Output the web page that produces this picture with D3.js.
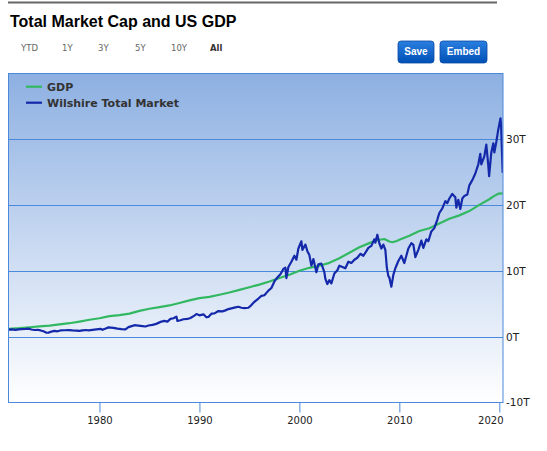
<!DOCTYPE html>
<html><head><meta charset="utf-8">
<script src="https://cdn.jsdelivr.net/npm/d3@7"></script>
<style>body{margin:0;background:#fff}svg{display:block}</style>
</head><body>
<script>
const title = "Total Market Cap and US GDP";
const rangeButtons = ["YTD","1Y","3Y","5Y","10Y","All"];
const actionButtons = ["Save","Embed"];
const seriesNames = ["GDP","Wilshire Total Market"];
const xTicks = [1980,1990,2000,2010,2020];
const yTicks = [-10,0,10,20,30];

const gdpYears = [1970.9,1972.0,1973.0,1974.0,1975.0,1976.0,1977.0,1978.0,1979.0,1980.0,1981.0,1982.0,1983.0,1984.0,1985.0,1986.0,1987.0,1988.0,1989.0,1990.0,1991.0,1992.0,1993.0,1994.0,1995.0,1996.0,1997.0,1998.0,1999.0,2000.0,2001.0,2002.0,2003.0,2004.0,2005.0,2006.0,2007.0,2007.75,2008.5,2009.0,2009.3,2009.75,2010.0,2011.0,2012.0,2013.0,2014.0,2015.0,2016.0,2017.0,2018.0,2019.0,2019.5,2019.9,2020.34];
const gdpValues = [1.20,1.30,1.44,1.56,1.68,1.86,2.05,2.30,2.58,2.80,3.12,3.27,3.50,3.92,4.25,4.50,4.75,5.12,5.52,5.87,6.05,6.38,6.72,7.12,7.52,7.92,8.40,8.92,9.41,10.03,10.47,10.78,11.22,11.92,12.76,13.60,14.22,14.66,14.85,14.47,14.36,14.55,14.72,15.35,16.07,16.48,17.20,17.92,18.44,19.09,20.04,20.89,21.40,21.73,21.78];

const wilshireYears = [1970.9,1971.3,1971.6,1971.9,1972.2,1972.6,1972.9,1973.2,1973.5,1973.8,1974.1,1974.4,1974.7,1974.9,1975.2,1975.5,1975.8,1976.1,1976.5,1976.9,1977.3,1977.7,1978.0,1978.3,1978.7,1978.9,1979.3,1979.7,1980.1,1980.3,1980.7,1980.9,1981.4,1981.8,1982.2,1982.6,1982.9,1983.3,1983.5,1983.9,1984.3,1984.6,1984.9,1985.3,1985.6,1985.9,1986.2,1986.5,1986.8,1987.1,1987.4,1987.7,1987.8,1988.1,1988.4,1988.8,1989.1,1989.5,1989.7,1990.0,1990.4,1990.7,1990.9,1991.2,1991.5,1991.9,1992.3,1992.6,1992.9,1993.3,1993.6,1993.9,1994.2,1994.5,1994.9,1995.2,1995.5,1995.9,1996.2,1996.5,1996.9,1997.2,1997.5,1997.8,1998.1,1998.4,1998.6,1998.7,1998.9,1999.2,1999.5,1999.7,1999.9,2000.2,2000.3,2000.6,2000.8,2001.0,2001.2,2001.4,2001.7,2001.9,2002.2,2002.5,2002.6,2002.8,2003.0,2003.2,2003.5,2003.8,2004.0,2004.3,2004.6,2004.9,2005.2,2005.5,2005.8,2006.1,2006.4,2006.7,2006.9,2007.2,2007.5,2007.6,2007.8,2008.0,2008.2,2008.4,2008.6,2008.75,2008.9,2009.0,2009.2,2009.4,2009.6,2009.9,2010.2,2010.5,2010.7,2010.9,2011.2,2011.4,2011.6,2011.9,2012.2,2012.4,2012.7,2012.9,2013.2,2013.5,2013.8,2014.0,2014.3,2014.6,2014.8,2015.0,2015.3,2015.6,2015.7,2015.9,2016.1,2016.3,2016.5,2016.8,2017.0,2017.3,2017.6,2017.9,2018.1,2018.2,2018.5,2018.7,2018.9,2018.98,2019.2,2019.4,2019.5,2019.7,2019.9,2020.12,2020.18,2020.34];
const wilshireValues = [1.07,1.12,1.05,1.10,1.15,1.18,1.22,1.10,1.02,1.05,0.95,0.82,0.60,0.62,0.78,0.88,0.82,0.95,0.98,1.00,0.95,0.92,0.88,0.96,1.02,0.95,1.05,1.12,1.20,1.05,1.30,1.42,1.35,1.22,1.15,1.12,1.45,1.65,1.75,1.68,1.60,1.55,1.70,1.80,1.90,2.10,2.30,2.40,2.30,2.70,2.80,3.05,2.40,2.50,2.65,2.70,2.85,3.20,3.45,3.25,3.40,2.95,3.00,3.50,3.55,3.90,3.85,4.00,4.20,4.35,4.45,4.55,4.40,4.35,4.40,4.80,5.30,5.80,6.20,6.30,7.00,7.40,8.40,9.00,9.50,10.30,10.50,8.90,10.60,11.40,12.30,11.70,13.40,14.50,13.20,14.00,13.00,12.40,10.80,11.80,9.80,11.00,11.10,9.80,8.80,8.00,8.60,8.10,9.60,10.10,10.80,10.60,10.40,11.40,11.20,11.70,12.00,12.60,12.30,13.00,13.50,13.80,14.80,14.30,15.50,14.20,13.40,14.00,13.20,10.50,9.20,9.00,7.60,9.40,10.40,11.50,12.30,11.20,12.30,13.40,14.20,14.00,12.10,13.20,14.60,13.50,14.80,14.50,16.00,16.50,17.80,18.80,19.50,20.60,20.30,21.00,21.70,21.20,19.60,20.80,19.40,21.00,21.40,21.60,23.00,23.80,24.80,26.20,27.80,26.20,27.40,29.20,26.00,24.40,28.00,29.40,28.00,29.60,31.50,33.20,32.00,24.90];

const W = 547, H = 451;
const svg = d3.select("body").append("svg").attr("width", W).attr("height", H);
const defs = svg.append("defs");

const bg = defs.append("linearGradient").attr("id","bg").attr("x1",0).attr("y1",0).attr("x2",0).attr("y2",1);
bg.append("stop").attr("offset","0%").attr("stop-color","#8db0e2");
bg.append("stop").attr("offset","100%").attr("stop-color","#ffffff");
const btn = defs.append("linearGradient").attr("id","btn").attr("x1",0).attr("y1",0).attr("x2",0).attr("y2",1);
btn.append("stop").attr("offset","0%").attr("stop-color","#2a7fdf");
btn.append("stop").attr("offset","100%").attr("stop-color","#0050b6");

const plot = {l: 8.5, r: 503, t: 73.5, b: 402.5};
defs.append("clipPath").attr("id","clip").append("rect")
  .attr("x", plot.l).attr("y", plot.t).attr("width", plot.r - plot.l).attr("height", plot.b - plot.t);

// header
svg.append("line").attr("x1",8).attr("x2",497).attr("y1",2.5).attr("y2",2.5)
  .attr("stroke","#666").attr("stroke-width",2);
svg.append("text").attr("x",10).attr("y",26.5).text(title)
  .attr("font-family","Liberation Sans, Arial, sans-serif").attr("font-weight","bold")
  .attr("font-size",16).attr("fill","#000");

const rbX = [21, 62, 98, 135, 171, 210];
svg.selectAll("text.rb").data(rangeButtons).join("text").attr("class","rb")
  .attr("x",(d,i)=>rbX[i]).attr("y",51).text(d=>d)
  .attr("font-family","DejaVu Sans, sans-serif").attr("font-size",8.5)
  .attr("font-weight",d=>d==="All"?"bold":"normal")
  .attr("fill",d=>d==="All"?"#333":"#666");

const abX = [398, 440], abW = [36, 47];
const ab = svg.selectAll("g.ab").data(actionButtons).join("g").attr("class","ab");
ab.append("rect").attr("x",(d,i)=>abX[i]).attr("y",41).attr("width",(d,i)=>abW[i]).attr("height",22)
  .attr("rx",3).attr("fill","url(#btn)").attr("stroke","#0a4aa6").attr("stroke-width",0.8);
ab.append("text").attr("x",(d,i)=>abX[i]+abW[i]/2).attr("y",55).attr("text-anchor","middle").text(d=>d)
  .attr("font-family","Liberation Sans, Arial, sans-serif").attr("font-weight","bold")
  .attr("font-size",10).attr("fill","#fff");

// scales
const x = d3.scaleLinear().domain([1970.9, 2020.37]).range([plot.l, plot.r]);
const y = d3.scaleLinear().domain([-10, 40]).range([plot.b, plot.t]);

svg.append("rect").attr("x",plot.l).attr("y",plot.t).attr("width",plot.r-plot.l).attr("height",plot.b-plot.t)
  .attr("fill","url(#bg)");

const gridColor = "#4a89dc";
svg.append("g").selectAll("line").data(yTicks.filter(v=>v>-10)).join("line")
  .attr("x1",plot.l).attr("x2",plot.r).attr("y1",d=>Math.round(y(d))+0.5).attr("y2",d=>Math.round(y(d))+0.5)
  .attr("stroke",gridColor).attr("stroke-width",1);

// lines
const line = d3.line().x(d=>x(d[0])).y(d=>y(d[1]));
const g = svg.append("g").attr("clip-path","url(#clip)");
g.append("path").datum(d3.zip(gdpYears, gdpValues)).attr("d", line)
  .attr("fill","none").attr("stroke","#33b862").attr("stroke-width",2.2).attr("stroke-linejoin","round");
g.append("path").datum(d3.zip(wilshireYears, wilshireValues)).attr("d", line)
  .attr("fill","none").attr("stroke","#1428aa").attr("stroke-width",2.2).attr("stroke-linejoin","round");

// frame
svg.append("rect").attr("x",plot.l).attr("y",plot.t).attr("width",plot.r-plot.l).attr("height",plot.b-plot.t)
  .attr("fill","none").attr("stroke",gridColor).attr("stroke-width",1);

// x axis
const xAxis = d3.axisBottom(x).tickValues(xTicks).tickSize(10).tickPadding(4).tickFormat(d3.format("d"));
const xa = svg.append("g").attr("transform",`translate(0,${plot.b})`).call(xAxis);
xa.select(".domain").remove();
xa.selectAll(".tick line").attr("stroke",gridColor);
xa.selectAll(".tick text").attr("font-family","DejaVu Sans, sans-serif").attr("font-size",10).attr("fill","#222")
  .attr("text-anchor",d=>d===2020?"end":"middle");
xa.selectAll(".tick text").each(function(d){ if(d===2020) d3.select(this).attr("x", plot.r - x(2020)); });

// y axis
const yAxis = d3.axisRight(y).tickValues(yTicks).tickSize(0).tickPadding(3).tickFormat(d=>d+"T");
const ya = svg.append("g").attr("transform",`translate(${plot.r},0)`).call(yAxis);
ya.select(".domain").remove();
ya.selectAll(".tick text").attr("font-family","DejaVu Sans, sans-serif").attr("font-size",10.5).attr("fill","#222");

// legend
const legColors = ["#33b862","#1428aa"];
const lg = svg.selectAll("g.leg").data(seriesNames).join("g").attr("class","leg")
  .attr("transform",(d,i)=>`translate(0,${86.7 + i*16})`);
lg.append("line").attr("x1",26).attr("x2",42).attr("stroke",(d,i)=>legColors[i]).attr("stroke-width",2.2);
lg.append("text").attr("x",47).attr("y",4).text(d=>d)
  .attr("font-family","DejaVu Sans, sans-serif").attr("font-weight","bold").attr("font-size",11).attr("fill","#333");
</script>
</body></html>
